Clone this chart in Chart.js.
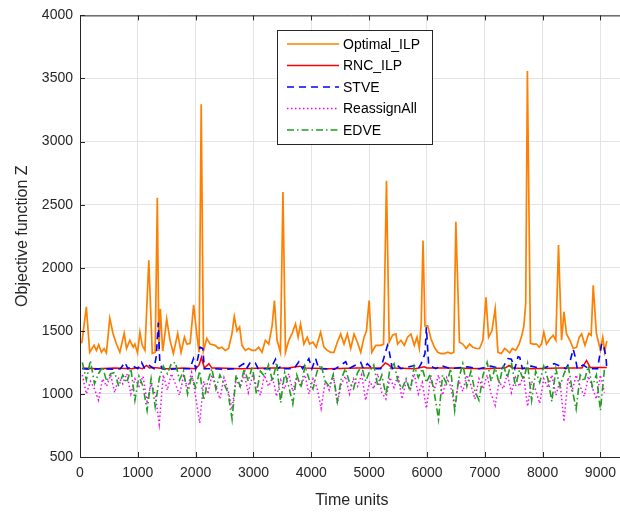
<!DOCTYPE html>
<html>
<head>
<meta charset="utf-8">
<script src="https://cdn.jsdelivr.net/npm/chart.js@4.4.0/dist/chart.umd.min.js"></script>
<style>
	html, body { margin: 0; padding: 0; overflow: hidden; background: #fff; }
	#wrap { width: 624px; height: 514px; }
</style>
</head>
<body>
<div id="wrap"><canvas id="chart" width="624" height="514"></canvas></div>
<script>
// Optimal_ILP (time, value)
var optimalT = [30,110,168,243,284,324,370,417,457,515,
	573,631,689,764,805,862,920,949,995,1036,
	1076,1123,1190,1250,1300,1337,1365,1389,1430,1470,
	1499,1557,1615,1690,1748,1806,1846,1904,1965,2019,
	2060,2096,2135,2193,2251,2338,2396,2453,2511,2569,
	2627,2668,2714,2760,2801,2859,2917,2974,3032,3090,
	3148,3206,3264,3322,3362,3408,3466,3510,3553,3611,
	3669,3727,3773,3814,3872,3929,3970,4028,4086,4161,
	4219,4277,4334,4392,4450,4508,4566,4624,4682,4739,
	4797,4855,4913,4954,5000,5046,5116,5202,5250,5300,
	5347,5405,5463,5492,5550,5608,5665,5723,5781,5828,
	5868,5900,5932,5966,6013,6071,6129,6186,6244,6302,
	6360,6418,6464,6500,6562,6620,6678,6736,6794,6852,
	6909,6967,7020,7066,7124,7180,7228,7286,7344,7373,
	7431,7477,7535,7593,7633,7674,7708,7737,7790,7836,
	7894,7940,7980,8021,8067,8125,8183,8229,8275,8328,
	8370,8414,8472,8530,8588,8634,8675,8733,8800,8840,
	8875,8930,9000,9040,9075,9110];
var optimalZ = [1400,1690,1330,1385,1345,1390,1330,1360,1325,1600,
	1475,1395,1330,1480,1360,1425,1370,1395,1325,1490,
	1385,1345,2060,1320,1330,2555,1340,1675,1340,1480,
	1595,1425,1320,1480,1330,1450,1395,1400,1705,1475,
	1330,3295,1340,1440,1395,1385,1360,1370,1345,1360,
	1475,1615,1500,1530,1385,1345,1360,1345,1345,1370,
	1330,1425,1395,1540,1740,1425,1330,2600,1330,1425,
	1480,1555,1450,1555,1395,1450,1395,1410,1370,1490,
	1370,1345,1330,1330,1410,1475,1395,1475,1360,1475,
	1410,1330,1450,1500,1740,1330,1385,1385,1395,2690,
	1410,1465,1475,1395,1425,1385,1450,1475,1385,1450,
	1360,1550,2215,1540,1540,1435,1370,1330,1320,1320,
	1330,1320,1330,2365,1410,1395,1360,1395,1370,1360,
	1360,1425,1765,1450,1500,1675,1330,1320,1360,1350,
	1325,1360,1345,1395,1450,1530,1715,3560,1400,1395,
	1395,1370,1395,1490,1395,1435,1465,1425,2180,1425,
	1650,1475,1425,1360,1370,1450,1475,1385,1480,1465,
	1860,1480,1345,1450,1335,1420];

// RNC_ILP
var rncT = [40,300,600,900,1000,1080,1150,1200,1260,1500,
	1800,2000,2060,2100,2150,2230,2280,2400,2800,3200,
	3600,3800,3900,4300,4800,5200,5280,5340,5400,5800,
	5950,6000,6400,7000,7350,7420,7480,7800,8300,8680,
	8760,8820,8880,9110];
var rncZ = [1205,1200,1205,1200,1210,1200,1225,1205,1210,1200,
	1205,1200,1230,1290,1205,1240,1205,1205,1200,1205,
	1205,1220,1205,1200,1205,1205,1245,1230,1205,1200,
	1215,1205,1205,1200,1205,1225,1205,1200,1205,1205,
	1265,1210,1210,1210];

// STVE
var stveT = [40,200,400,600,700,775,830,900,1000,1065,
	1120,1200,1280,1320,1354,1380,1420,1500,1700,1900,
	1962,2000,2077,2124,2150,2300,2500,2700,2830,2880,
	2945,3032,3080,3300,3380,3420,3495,3540,3700,3785,
	3850,3958,4010,4074,4130,4400,4595,4650,4855,4900,
	4971,5050,5200,5318,5347,5400,5492,5550,5781,5850,
	5900,5966,5990,6030,6071,6150,6250,6400,6700,6900,
	7100,7300,7402,7460,7520,7575,7605,7650,7800,8000,
	8200,8400,8470,8530,8560,8600,8700,8800,8950,9022,
	9051,9097,9110];
var stveZ = [1200,1195,1200,1195,1200,1250,1200,1225,1200,1250,
	1200,1225,1200,1300,1565,1250,1200,1195,1200,1200,
	1280,1200,1370,1360,1200,1200,1195,1200,1240,1200,
	1250,1245,1200,1200,1275,1200,1225,1200,1200,1255,
	1200,1280,1200,1280,1200,1195,1255,1200,1250,1200,
	1240,1200,1200,1385,1340,1200,1225,1200,1225,1200,
	1240,1320,1530,1230,1220,1200,1225,1200,1215,1200,
	1220,1200,1280,1275,1200,1295,1290,1200,1220,1200,
	1240,1200,1250,1355,1300,1200,1230,1200,1200,1400,
	1390,1290,1200];

// ReassignAll and EDVE share the same sample times
var sampleT = [40,110,180,250,320,390,460,530,600,670,
	740,810,880,950,1020,1090,1160,1230,1300,1370,
	1440,1510,1580,1650,1720,1790,1860,1930,2000,2070,
	2140,2210,2280,2350,2420,2490,2560,2630,2700,2770,
	2840,2910,2980,3050,3120,3190,3260,3330,3400,3470,
	3540,3610,3680,3750,3820,3890,3960,4030,4100,4170,
	4240,4310,4380,4450,4520,4590,4660,4730,4800,4870,
	4940,5010,5080,5150,5220,5290,5360,5430,5500,5570,
	5640,5710,5780,5850,5920,5990,6060,6130,6200,6270,
	6340,6410,6480,6550,6620,6690,6760,6830,6900,6970,
	7040,7110,7180,7250,7320,7390,7460,7530,7600,7670,
	7740,7810,7880,7950,8020,8090,8160,8230,8300,8370,
	8440,8510,8580,8650,8720,8790,8860,8930,9000,9070];
var reassignZ = [1150,1000,1100,1040,950,1120,1060,1150,1010,1130,
	1080,1160,1000,1120,1060,1140,940,1080,1000,760,
	1150,1030,1160,1080,990,1140,1050,1170,980,770,
	1100,1000,1150,1060,960,1130,1030,880,1120,1050,
	1160,1010,1140,1070,990,1150,1060,1130,980,1110,
	1040,1160,1020,1140,1060,1150,1000,1120,1050,885,
	1100,1030,1150,925,1080,1140,1000,1120,1060,1150,
	950,1100,1040,1160,1010,960,1130,1050,1150,960,
	1100,1030,1160,1000,1090,885,1120,1040,1150,990,
	1130,1060,900,1110,1020,1150,1070,960,1120,1040,
	1150,1000,910,1100,1040,1160,1010,1130,1060,1150,
	900,1100,1030,925,1120,1050,1150,990,1100,780,
	1130,1020,1150,1060,980,1140,1050,960,1150,1010];
var edveZ = [1250,1110,1265,1080,1160,1215,1100,1160,1170,1060,
	1150,1090,1200,950,1140,1060,870,1120,900,1120,
	1220,1160,1240,1250,1110,1180,1000,1140,1050,1180,
	950,1100,1200,1040,1150,1080,1010,800,1150,1060,
	1200,1100,1220,1000,1180,1140,1230,1100,1250,930,
	1170,1060,920,1150,1050,1220,1120,1040,1180,1230,
	1100,1060,1150,940,1120,1200,1090,1040,1170,1220,
	1100,1180,1230,1060,1150,990,1200,1240,1100,1040,
	1120,1020,1220,1130,1200,1090,1160,1000,800,1150,
	1080,1200,870,1120,1240,1060,1180,1020,950,1150,
	1250,1100,1210,1080,1230,1130,1250,1060,1190,1110,
	1240,950,1180,1090,1220,1120,940,1200,1060,1160,
	1230,1040,880,1150,1100,1220,1060,1150,870,1200];

var seriesNames = ['Optimal_ILP', 'RNC_ILP', 'STVE', 'ReassignAll', 'EDVE'];
var xTicks = [0,1000,2000,3000,4000,5000,6000,7000,8000,9000];

function toPoints(xs, ys) {
	var pts = [];
	for (var i = 0; i < xs.length; i++) {
		pts.push({x: xs[i], y: ys[i]});
	}
	return pts;
}

var axisColor = '#262626';
var gridColor = '#e4e4e4';
Chart.defaults.font.family = "'Liberation Sans', Arial, sans-serif";
Chart.defaults.color = axisColor;

var datasets = [
	{label: seriesNames[0], data: toPoints(optimalT, optimalZ), borderColor: '#ff8000', borderWidth: 1.7, order: 5},
	{label: seriesNames[1], data: toPoints(rncT, rncZ), borderColor: '#ff0000', borderWidth: 1.5, order: 4},
	{label: seriesNames[2], data: toPoints(stveT, stveZ), borderColor: '#0000ff', borderWidth: 1.6, borderDash: [7, 5], order: 3},
	{label: seriesNames[3], data: toPoints(sampleT, reassignZ), borderColor: '#ff00ff', borderWidth: 1.5, borderDash: [1.5, 2.5], order: 2},
	{label: seriesNames[4], data: toPoints(sampleT, edveZ), borderColor: '#1f9e1f', borderWidth: 1.6, borderDash: [7, 3, 1.5, 3], order: 1}
];
datasets.forEach(function(d) {
	d.pointRadius = 0;
	d.tension = 0;
	d.fill = false;
});

function plainNumber(v) {
	return String(v);
}

// frame, inner ticks and legend box drawn the MATLAB way
var matlabFrame = {
	id: 'matlabFrame',
	afterDraw: function(chart) {
		var ctx = chart.ctx;
		var a = chart.chartArea;
		var xs = chart.scales.x, ys = chart.scales.y;
		ctx.save();
		ctx.strokeStyle = axisColor;
		ctx.lineWidth = 1;
		ctx.beginPath();
		ctx.moveTo(a.left, a.top + 0.5);
		ctx.lineTo(a.right, a.top + 0.5);
		xTicks.forEach(function(v) {
			var px = Math.round(xs.getPixelForValue(v)) + 0.5;
			ctx.moveTo(px, a.bottom);
			ctx.lineTo(px, a.bottom - 5);
			ctx.moveTo(px, a.top);
			ctx.lineTo(px, a.top + 5);
		});
		ys.ticks.forEach(function(t) {
			var py = Math.round(ys.getPixelForValue(t.value)) + 0.5;
			ctx.moveTo(a.left, py);
			ctx.lineTo(a.left + 5, py);
		});
		ctx.stroke();

		// legend
		var bx = 277.5, by = 30.5, bw = 155, bh = 114;
		ctx.fillStyle = '#fff';
		ctx.fillRect(bx, by, bw, bh);
		ctx.strokeRect(bx, by, bw, bh);
		ctx.font = "14px 'Liberation Sans', Arial, sans-serif";
		ctx.textBaseline = 'middle';
		chart.data.datasets.forEach(function(d, i) {
			var ry = 44 + i * 21.5;
			ctx.strokeStyle = d.borderColor;
			ctx.lineWidth = 1.5;
			ctx.setLineDash(d.borderDash || []);
			ctx.beginPath();
			ctx.moveTo(287, ry);
			ctx.lineTo(339, ry);
			ctx.stroke();
			ctx.setLineDash([]);
			ctx.fillStyle = '#000';
			ctx.fillText(d.label, 343, ry + 1);
		});
		ctx.restore();
	}
};

new Chart(document.getElementById('chart'), {
	type: 'line',
	data: {datasets: datasets},
	plugins: [matlabFrame],
	options: {
		responsive: false,
		animation: false,
		layout: {padding: {top: 14, right: 0, left: 0, bottom: 0}},
		plugins: {legend: {display: false}, tooltip: {enabled: false}},
		scales: {
			x: {
				type: 'linear',
				min: 0,
				max: 9400,
				afterBuildTicks: function(s) {
					s.ticks = xTicks.map(function(v) { return {value: v}; });
				},
				afterFit: function(s) { s.height = 57; },
				grid: {color: gridColor, drawTicks: false},
				border: {display: true, color: axisColor, width: 1},
				ticks: {padding: 8, maxRotation: 0, font: {size: 14}, color: axisColor, callback: plainNumber},
				title: {display: true, text: 'Time units', font: {size: 16}, color: axisColor, padding: {top: 0, bottom: 4}}
			},
			y: {
				min: 500,
				max: 4000,
				ticks: {stepSize: 500, padding: 7, font: {size: 14}, color: axisColor, callback: plainNumber},
				afterFit: function(s) { s.width = 80; },
				grid: {color: gridColor, drawTicks: false},
				border: {display: true, color: axisColor, width: 1},
				title: {display: true, text: 'Objective function Z', font: {size: 16}, color: axisColor, padding: {top: 13, bottom: 0}}
			}
		}
	}
});
</script>
</body>
</html>
